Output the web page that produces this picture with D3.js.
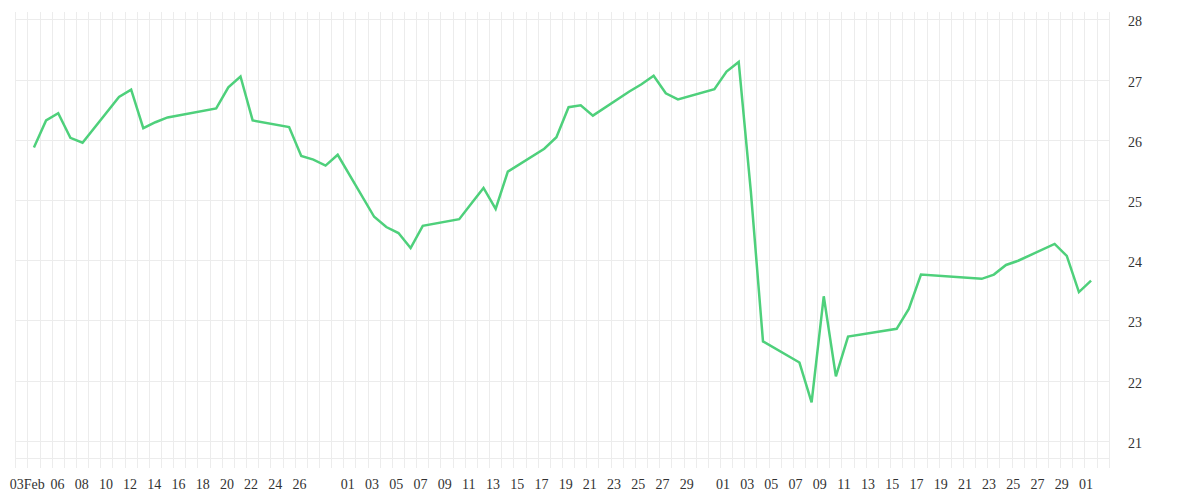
<!DOCTYPE html>
<html><head><meta charset="utf-8">
<script src="https://cdn.jsdelivr.net/npm/d3@7"></script>
<style>
body{margin:0;background:#fff}
svg{display:block}
text{font-family:"Liberation Serif","DejaVu Serif",serif;fill:#333}
</style>
</head><body>
<svg id="chart" width="1200" height="500"></svg>
<script>
// ---- data ----
const dates = ["2024-02-04","2024-02-05","2024-02-06","2024-02-07","2024-02-08","2024-02-11","2024-02-12","2024-02-13","2024-02-14","2024-02-15",
"2024-02-19","2024-02-20","2024-02-21","2024-02-22","2024-02-25","2024-02-26","2024-02-27","2024-02-28","2024-02-29",
"2024-03-03","2024-03-04","2024-03-05","2024-03-06","2024-03-07","2024-03-10","2024-03-11","2024-03-12","2024-03-13","2024-03-14",
"2024-03-17","2024-03-18","2024-03-19","2024-03-20","2024-03-21","2024-03-24","2024-03-25","2024-03-26","2024-03-27","2024-03-28",
"2024-03-31","2024-04-01","2024-04-02","2024-04-03","2024-04-04","2024-04-07","2024-04-08","2024-04-09","2024-04-10","2024-04-11",
"2024-04-15","2024-04-16","2024-04-17","2024-04-22","2024-04-23","2024-04-24","2024-04-25","2024-04-28","2024-04-29","2024-04-30","2024-05-01"];
const values = [25.88,26.33,26.45,26.04,25.96,26.72,26.84,26.20,26.30,26.38,
26.53,26.88,27.06,26.33,26.22,25.74,25.68,25.58,25.76,
24.73,24.56,24.46,24.21,24.58,24.69,24.95,25.21,24.86,25.48,
25.86,26.05,26.55,26.58,26.41,26.81,26.93,27.07,26.78,26.68,
26.85,27.14,27.30,25.15,22.66,22.31,21.65,23.41,22.08,22.74,
22.87,23.20,23.77,23.70,23.77,23.93,24.00,24.28,24.08,23.48,23.67];
const yTickValues = [21,22,23,24,25,26,27,28];
const xTickDates = ["2024-02-03","2024-02-06","2024-02-08","2024-02-10","2024-02-12","2024-02-14","2024-02-16","2024-02-18","2024-02-20","2024-02-22","2024-02-24","2024-02-26",
"2024-03-01","2024-03-03","2024-03-05","2024-03-07","2024-03-09","2024-03-11","2024-03-13","2024-03-15","2024-03-17","2024-03-19","2024-03-21","2024-03-23","2024-03-25","2024-03-27","2024-03-29",
"2024-04-01","2024-04-03","2024-04-05","2024-04-07","2024-04-09","2024-04-11","2024-04-13","2024-04-15","2024-04-17","2024-04-19","2024-04-21","2024-04-23","2024-04-25","2024-04-27","2024-04-29",
"2024-05-01"];
const dayStart = "2024-02-03", dayEnd = "2024-05-03";

// ---- setup ----
const parse = d3.utcParse("%Y-%m-%d");
const svg = d3.select("#chart");
const pLeft = 15.7, pRight = 1109.3, pTop = 12, pBottom = 458.3;

const x = d3.scaleUtc().domain([parse(dayStart), parse(dayEnd)]).range([pLeft, pRight]);
const y = d3.scaleLinear().domain([20.72, 28.13]).range([pBottom, pTop]);
const xLabel = d3.scaleUtc().domain([parse("2024-02-06"), parse("2024-04-29")]).range([57.5, 1061.7]);

const data = dates.map((d, i) => ({date: d3.utcHour.offset(parse(d), 12), value: values[i]}));

const grid = svg.append("g").attr("stroke", "#ececec").attr("stroke-width", 1).attr("shape-rendering", "crispEdges");
// vertical daily gridlines
grid.selectAll("line.v").data(d3.utcDay.range(parse(dayStart), d3.utcDay.offset(parse(dayEnd), 1)))
  .join("line").attr("class", "v")
  .attr("x1", d => x(d)).attr("x2", d => x(d))
  .attr("y1", pTop).attr("y2", pBottom + 10);
// horizontal gridlines
grid.selectAll("line.h").data(yTickValues.concat([y.domain()[0]]))
  .join("line").attr("class", "h")
  .attr("x1", pLeft).attr("x2", pRight)
  .attr("y1", d => y(d)).attr("y2", d => y(d));

// y labels (right)
svg.append("g").selectAll("text").data(yTickValues).join("text")
  .attr("x", 1128).attr("y", d => y(d) + 6.5)
  .attr("font-size", 14).text(d => d);

// x labels
const fmtFirst = d3.utcFormat("%d%b"), fmt = d3.utcFormat("%d");
svg.append("g").selectAll("text").data(xTickDates.map(parse)).join("text")
  .attr("x", (d, i) => xLabel(d) + (i === 0 ? 6 : 0))
  .attr("y", 489).attr("text-anchor", "middle")
  .attr("font-size", 14)
  .text((d, i) => i === 0 ? fmtFirst(d) : fmt(d));

// line
const line = d3.line().x(d => x(d.date)).y(d => y(d.value));
svg.append("path").datum(data)
  .attr("fill", "none").attr("stroke", "#4ed07b").attr("stroke-width", 2.5)
  .attr("stroke-linejoin", "miter").attr("d", line);
</script>
</body></html>
